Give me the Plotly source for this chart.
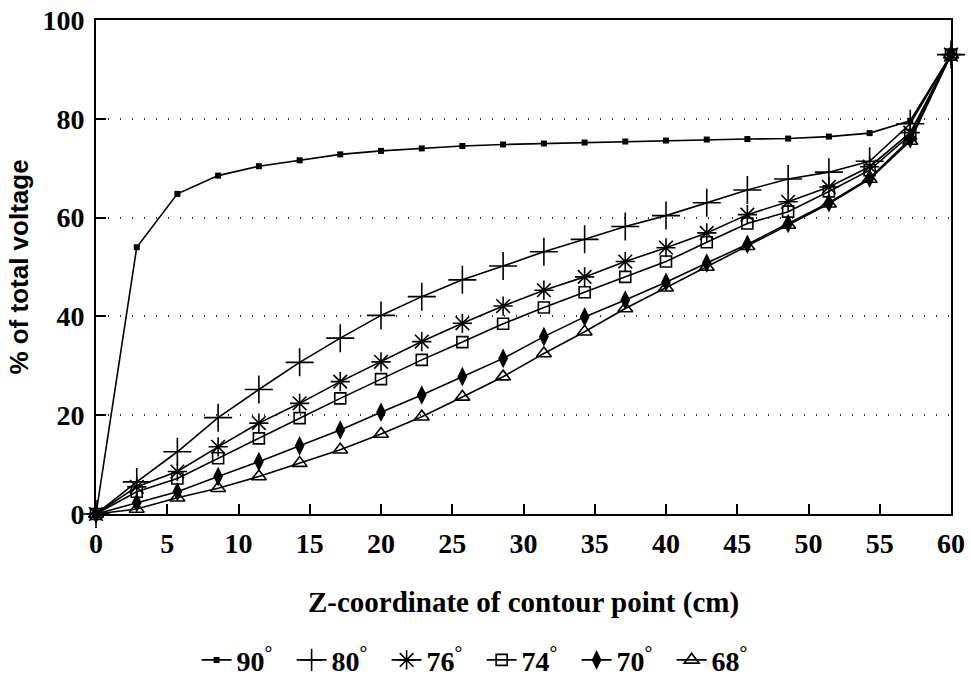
import plotly.graph_objects as go

# z-coordinate of contour points (cm)
z_cm = [0, 2.86, 5.71, 8.57, 11.43, 14.29, 17.14, 20.0, 22.86, 25.71, 28.57,
        31.43, 34.29, 37.14, 40.0, 42.86, 45.71, 48.57, 51.43, 54.29, 57.14, 60.0]

# % of total voltage for each contour angle
v90 = [0, 54.0, 64.8, 68.5, 70.4, 71.6, 72.8, 73.5, 74.0, 74.5, 74.8,
       75.0, 75.2, 75.4, 75.6, 75.8, 75.9, 76.0, 76.4, 77.1, 79.6, 93.0]
v80 = [0, 6.5, 12.6, 19.5, 25.2, 30.7, 35.6, 40.2, 44.0, 47.4, 50.2,
       53.1, 55.6, 58.2, 60.4, 63.0, 65.6, 67.8, 69.2, 71.4, 79.0, 93.0]
v76 = [0, 5.5, 8.6, 13.6, 18.4, 22.4, 26.8, 30.8, 34.9, 38.6, 42.1,
       45.3, 48.0, 51.1, 53.9, 56.9, 60.6, 63.2, 66.2, 70.3, 77.2, 93.0]
v74 = [0, 4.5, 7.2, 11.3, 15.3, 19.4, 23.4, 27.3, 31.2, 34.8, 38.5,
       41.8, 44.9, 48.0, 51.1, 55.0, 58.8, 61.2, 65.3, 69.6, 76.7, 93.0]
v70 = [0, 2.3, 4.5, 7.6, 10.6, 13.8, 17.0, 20.6, 24.1, 27.8, 31.5,
       35.9, 39.9, 43.3, 46.9, 50.8, 54.6, 58.8, 63.0, 68.0, 75.9, 93.0]
v68 = [0, 1.0, 3.3, 5.2, 7.6, 10.3, 13.0, 16.2, 19.7, 23.7, 27.8,
       32.5, 36.9, 41.6, 45.8, 50.0, 54.2, 58.5, 62.8, 67.8, 75.5, 93.0]

series_names = ["90<sup>°</sup>", "80<sup>°</sup>", "76<sup>°</sup>",
                "74<sup>°</sup>", "70<sup>°</sup>", "68<sup>°</sup>"]
series_values = [v90, v80, v76, v74, v70, v68]

x_ticks = [0, 5, 10, 15, 20, 25, 30, 35, 40, 45, 50, 55, 60]
y_ticks = [0, 20, 40, 60, 80, 100]

styles = [
    dict(symbol="square", size=6, color="black", line=dict(width=0)),
    dict(symbol="cross-thin", size=20, color="black", line=dict(width=1.6, color="black")),
    dict(symbol="asterisk", size=16, color="black", line=dict(width=1.6, color="black")),
    dict(symbol="square-open", size=11, color="black", line=dict(width=1.6, color="black")),
    dict(symbol="diamond-tall", size=14, color="black", line=dict(width=0)),
    dict(symbol="triangle-up-open", size=13, color="black", line=dict(width=1.6, color="black")),
]

SERIF = "Liberation Serif"
SANS = "Liberation Sans"

fig = go.Figure()
for name, vals, mk in zip(series_names, series_values, styles):
    fig.add_trace(go.Scatter(
        x=z_cm, y=vals, name=name, mode="lines+markers",
        line=dict(color="black", width=1.6),
        marker=mk, cliponaxis=False,
    ))

fig.update_layout(
    width=971, height=679,
    margin=dict(l=96, r=20, t=20, b=165, autoexpand=False),
    paper_bgcolor="white", plot_bgcolor="white",
    font=dict(family=SERIF, color="black", size=22, weight="bold"),
    showlegend=True,
    legend=dict(
        orientation="h", x=0.451, xanchor="center", y=-0.296, yanchor="middle",
        font=dict(family=SERIF, size=28, color="black", weight="bold"),
        entrywidth=50, itemsizing="trace", tracegroupgap=0,
        bgcolor="rgba(0,0,0,0)",
    ),
)

fig.update_xaxes(
    range=[0, 60], tickvals=x_ticks, ticktext=[str(t) for t in x_ticks],
    showline=True, linewidth=2, linecolor="black", mirror=True,
    ticks="inside", ticklen=10, tickwidth=1.5, tickcolor="black",
    showgrid=False, zeroline=False, ticklabelstandoff=3, automargin=False,
    tickfont=dict(family=SERIF, size=28, color="black", weight="bold"),
    title=dict(text="Z-coordinate of contour point (cm)",
               font=dict(family=SERIF, size=29, color="black", weight="bold"),
               standoff=34),
)
fig.update_yaxes(
    range=[0, 100], tickvals=y_ticks, ticktext=[str(t) for t in y_ticks],
    showline=True, linewidth=2, linecolor="black", mirror=True,
    ticks="inside", ticklen=10, tickwidth=1.5, tickcolor="black",
    showgrid=True, gridcolor="#333333", gridwidth=1.5, griddash="1px,11px",
    zeroline=False, ticklabelstandoff=4, automargin=False,
    tickfont=dict(family=SERIF, size=28, color="black", weight="bold"),
    title=dict(text="% of total voltage",
               font=dict(family=SANS, size=26, color="black", weight="bold"),
               standoff=6),
)

fig.write_html("out.html")
